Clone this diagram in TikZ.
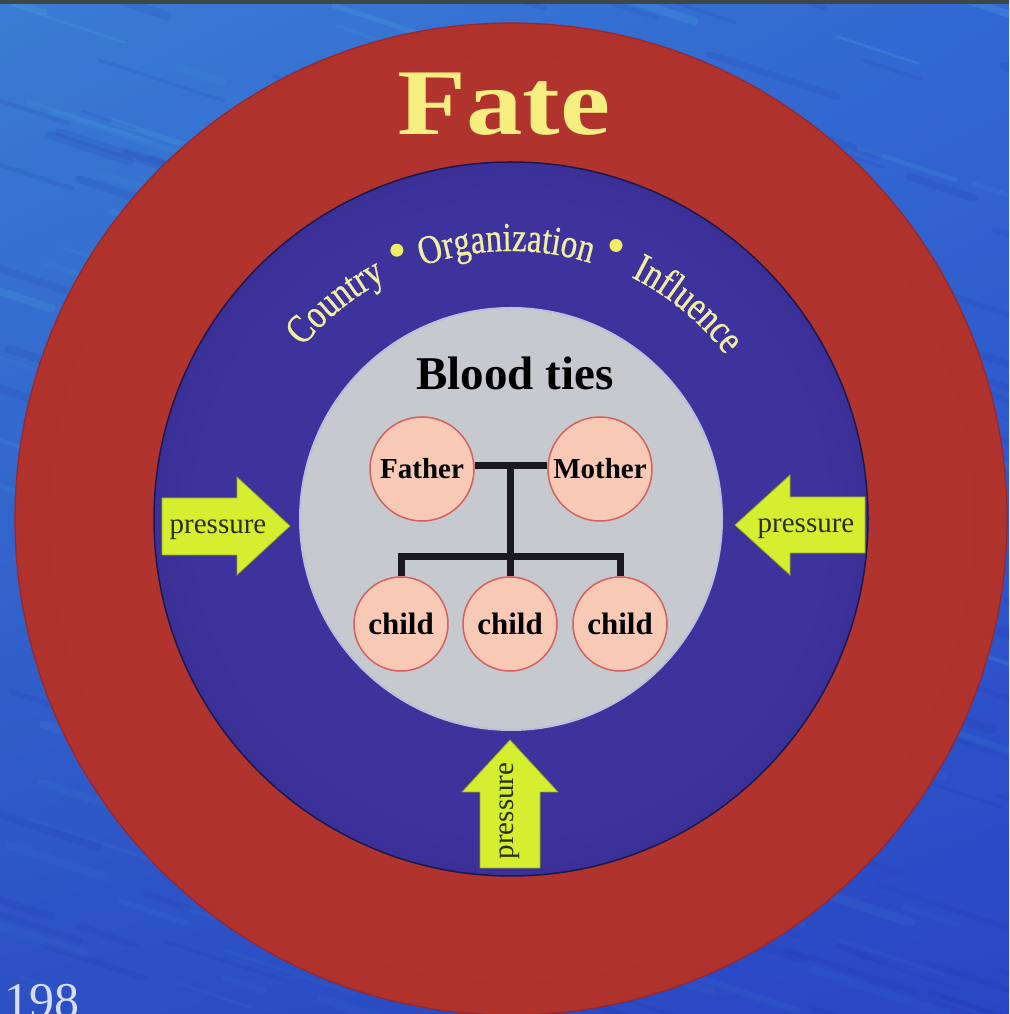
\documentclass[tikz,border=0pt]{standalone}
\usepackage{fontspec}
\setmainfont{Liberation Serif}
\newfontfamily\fatefont[FakeStretch=1.2]{Liberation Serif}
\newfontfamily\arcfont[FakeStretch=0.8,FakeBold=0.6]{Liberation Serif}
\usetikzlibrary{decorations.text,shadings}

\definecolor{bgtl}{RGB}{58,124,212}
\definecolor{bgtr}{RGB}{50,104,210}
\definecolor{bgbl}{RGB}{44,80,196}
\definecolor{bgbr}{RGB}{42,70,196}
\definecolor{streakA}{RGB}{80,180,222}
\definecolor{streakB}{RGB}{30,48,160}
\definecolor{topstrip}{RGB}{62,70,72}
\definecolor{rb}{RGB}{178,52,46}
\definecolor{rc}{RGB}{176,50,44}
\definecolor{rd}{RGB}{152,38,42}
\definecolor{pa}{RGB}{62,50,156}
\definecolor{pb}{RGB}{52,44,140}
\definecolor{pc}{RGB}{38,34,110}
\definecolor{greyfill}{RGB}{198,201,205}
\definecolor{greyedge}{RGB}{185,192,222}
\definecolor{pinkfill}{RGB}{248,202,182}
\definecolor{pinkedge}{RGB}{215,95,95}
\definecolor{fateyel}{RGB}{246,238,128}
\definecolor{arcyel}{RGB}{240,238,160}
\definecolor{dotyel}{RGB}{240,236,100}
\definecolor{arrowfill}{RGB}{214,238,48}
\definecolor{arrowedge}{RGB}{150,170,30}
\definecolor{presscol}{RGB}{40,48,20}
\definecolor{treecol}{RGB}{25,25,30}
\definecolor{pagecol}{RGB}{215,220,240}

% radial shadings: 35.36bp corresponds to the circle's rim
\pgfdeclareradialshading{redring}{\pgfpoint{0bp}{0bp}}{color(0bp)=(rb); color(31bp)=(rc); color(35.36bp)=(rd); color(100bp)=(rd)}
\pgfdeclareradialshading{purpring}{\pgfpoint{0bp}{0bp}}{color(0bp)=(pa); color(22bp)=(pa); color(31bp)=(pb); color(35.36bp)=(pc); color(100bp)=(pc)}

\tikzset{
  person/.style={circle, draw=pinkedge, fill=pinkfill, line width=1.5, inner sep=0, text=black},
  parentbox/.style={person, minimum size=104, font=\bfseries\fontsize{29}{29}\selectfont},
  childbox/.style={person, minimum size=94, font=\bfseries\fontsize{31}{31}\selectfont},
  tree/.style={line width=7, draw=treecol, line join=miter},
  pressarrow/.style={fill=arrowfill, draw=arrowedge, line width=0.8, line join=miter},
  presstext/.style={font=\fontsize{29}{29}\selectfont, text=presscol, inner sep=0},
  arcword/.style={decorate, decoration={text along path, text align=center, text color=arcyel,
      text={|\arcfont\fontsize{41}{41}\selectfont|#1}}}
}

\begin{document}
\begin{tikzpicture}[x=1pt,y=1pt]
\useasboundingbox (0,0) rectangle (1009,1014);
% background water
\shade[upper left=bgtl, upper right=bgtr, lower left=bgbl, lower right=bgbr] (0,0) rectangle (1009,1014);
\begin{scope}
\clip (0,0) rectangle (1009,1014);
\pgfmathsetseed{7}
\foreach \i in {1,...,320}{
  \pgfmathsetmacro{\xx}{rnd*1080-40}
  \pgfmathsetmacro{\yy}{rnd*1080-40}
  \pgfmathsetmacro{\ll}{40+rnd*110}
  \pgfmathsetmacro{\ww}{2+rnd*7}
  \pgfmathsetmacro{\oo}{0.05+0.2*rnd*(\yy+60)/1100}
  \ifodd\i
    \draw[line width=\ww, line cap=round, draw=streakA, opacity=\oo] (\xx,\yy) .. controls +(15,-4) and +(-15,4) .. ++(-18:\ll);
  \else
    \draw[line width=\ww, line cap=round, draw=streakB, opacity=0.12] (\xx,\yy) .. controls +(15,-4) and +(-15,4) .. ++(-18:\ll);
  \fi
}
\end{scope}
\fill[topstrip] (0,1010) rectangle (1009,1014);

\coordinate (C) at (511,495);
% rings
\shade[shading=redring] (C) circle[radius=496];
\draw[rd, line width=1.2] (C) circle[radius=496];
\shade[shading=purpring] (C) circle[radius=357];
\draw[pc!70!black, line width=1.5] (C) circle[radius=357];
\fill[greyfill] (C) circle[radius=211];
\draw[greyedge, line width=2] (C) circle[radius=211];

% Fate
\node[anchor=base, inner sep=0, text=fateyel, font=\fatefont\bfseries\fontsize{94}{94}\selectfont] (fate) at (504,879) {Fate};

% curved words
\path[arcword=Country] ([shift={(154:270)}]C) arc[start angle=154, end angle=104, radius=270];
\path[arcword=Organization] ([shift={(122:268)}]C) arc[start angle=122, end angle=60, radius=268];
\path[arcword=Influence] ([shift={(76:270)}]C) arc[start angle=76, end angle=25, radius=270];
\fill[dotyel] ([shift={(113:292)}]C) circle[radius=6.5];
\fill[dotyel] ([shift={(69:293)}]C) circle[radius=6.5];

% Blood ties
\node[anchor=base, inner sep=0, font=\bfseries\fontsize{47}{47}\selectfont] (blood) at (515,624) {Blood ties};

% family
\node[parentbox] (father) at (422,545) {Father};
\node[parentbox] (mother) at (600,545) {Mother};
\node[childbox] (c1) at (401,390) {child};
\node[childbox] (c2) at (510,390) {child};
\node[childbox] (c3) at (620,390) {child};
\coordinate (j1) at (510,549);
\coordinate (bl) at (401,457);
\coordinate (br) at (620,457);
\draw[tree] (father.4) -- (mother.176);
\draw[tree] (j1) -- (c2.north);
\draw[tree] (c1.north) -- (bl) -- (br) -- (c3.north);

% pressure arrows
\fill[pressarrow] (162,516) -- (237,516) -- (237,537) -- (290,488) -- (237,439) -- (237,459) -- (162,459) -- cycle;
\node[presstext, anchor=base] (pl) at (218,480) {pressure};
\fill[pressarrow] (865,517) -- (790,517) -- (790,539) -- (735,489) -- (790,439) -- (790,461) -- (865,461) -- cycle;
\node[presstext, anchor=base] (pr) at (806,481) {pressure};
\fill[pressarrow] (480,146) -- (480,222) -- (462,222) -- (510,274) -- (558,222) -- (540,222) -- (540,146) -- cycle;
\node[presstext, rotate=90] (pb) at (510,203) {pressure};

% page number
\node[anchor=base west, inner sep=0, text=pagecol, font=\fontsize{50}{50}\selectfont] (pg) at (4,-4) {198};
\end{tikzpicture}
\end{document}
